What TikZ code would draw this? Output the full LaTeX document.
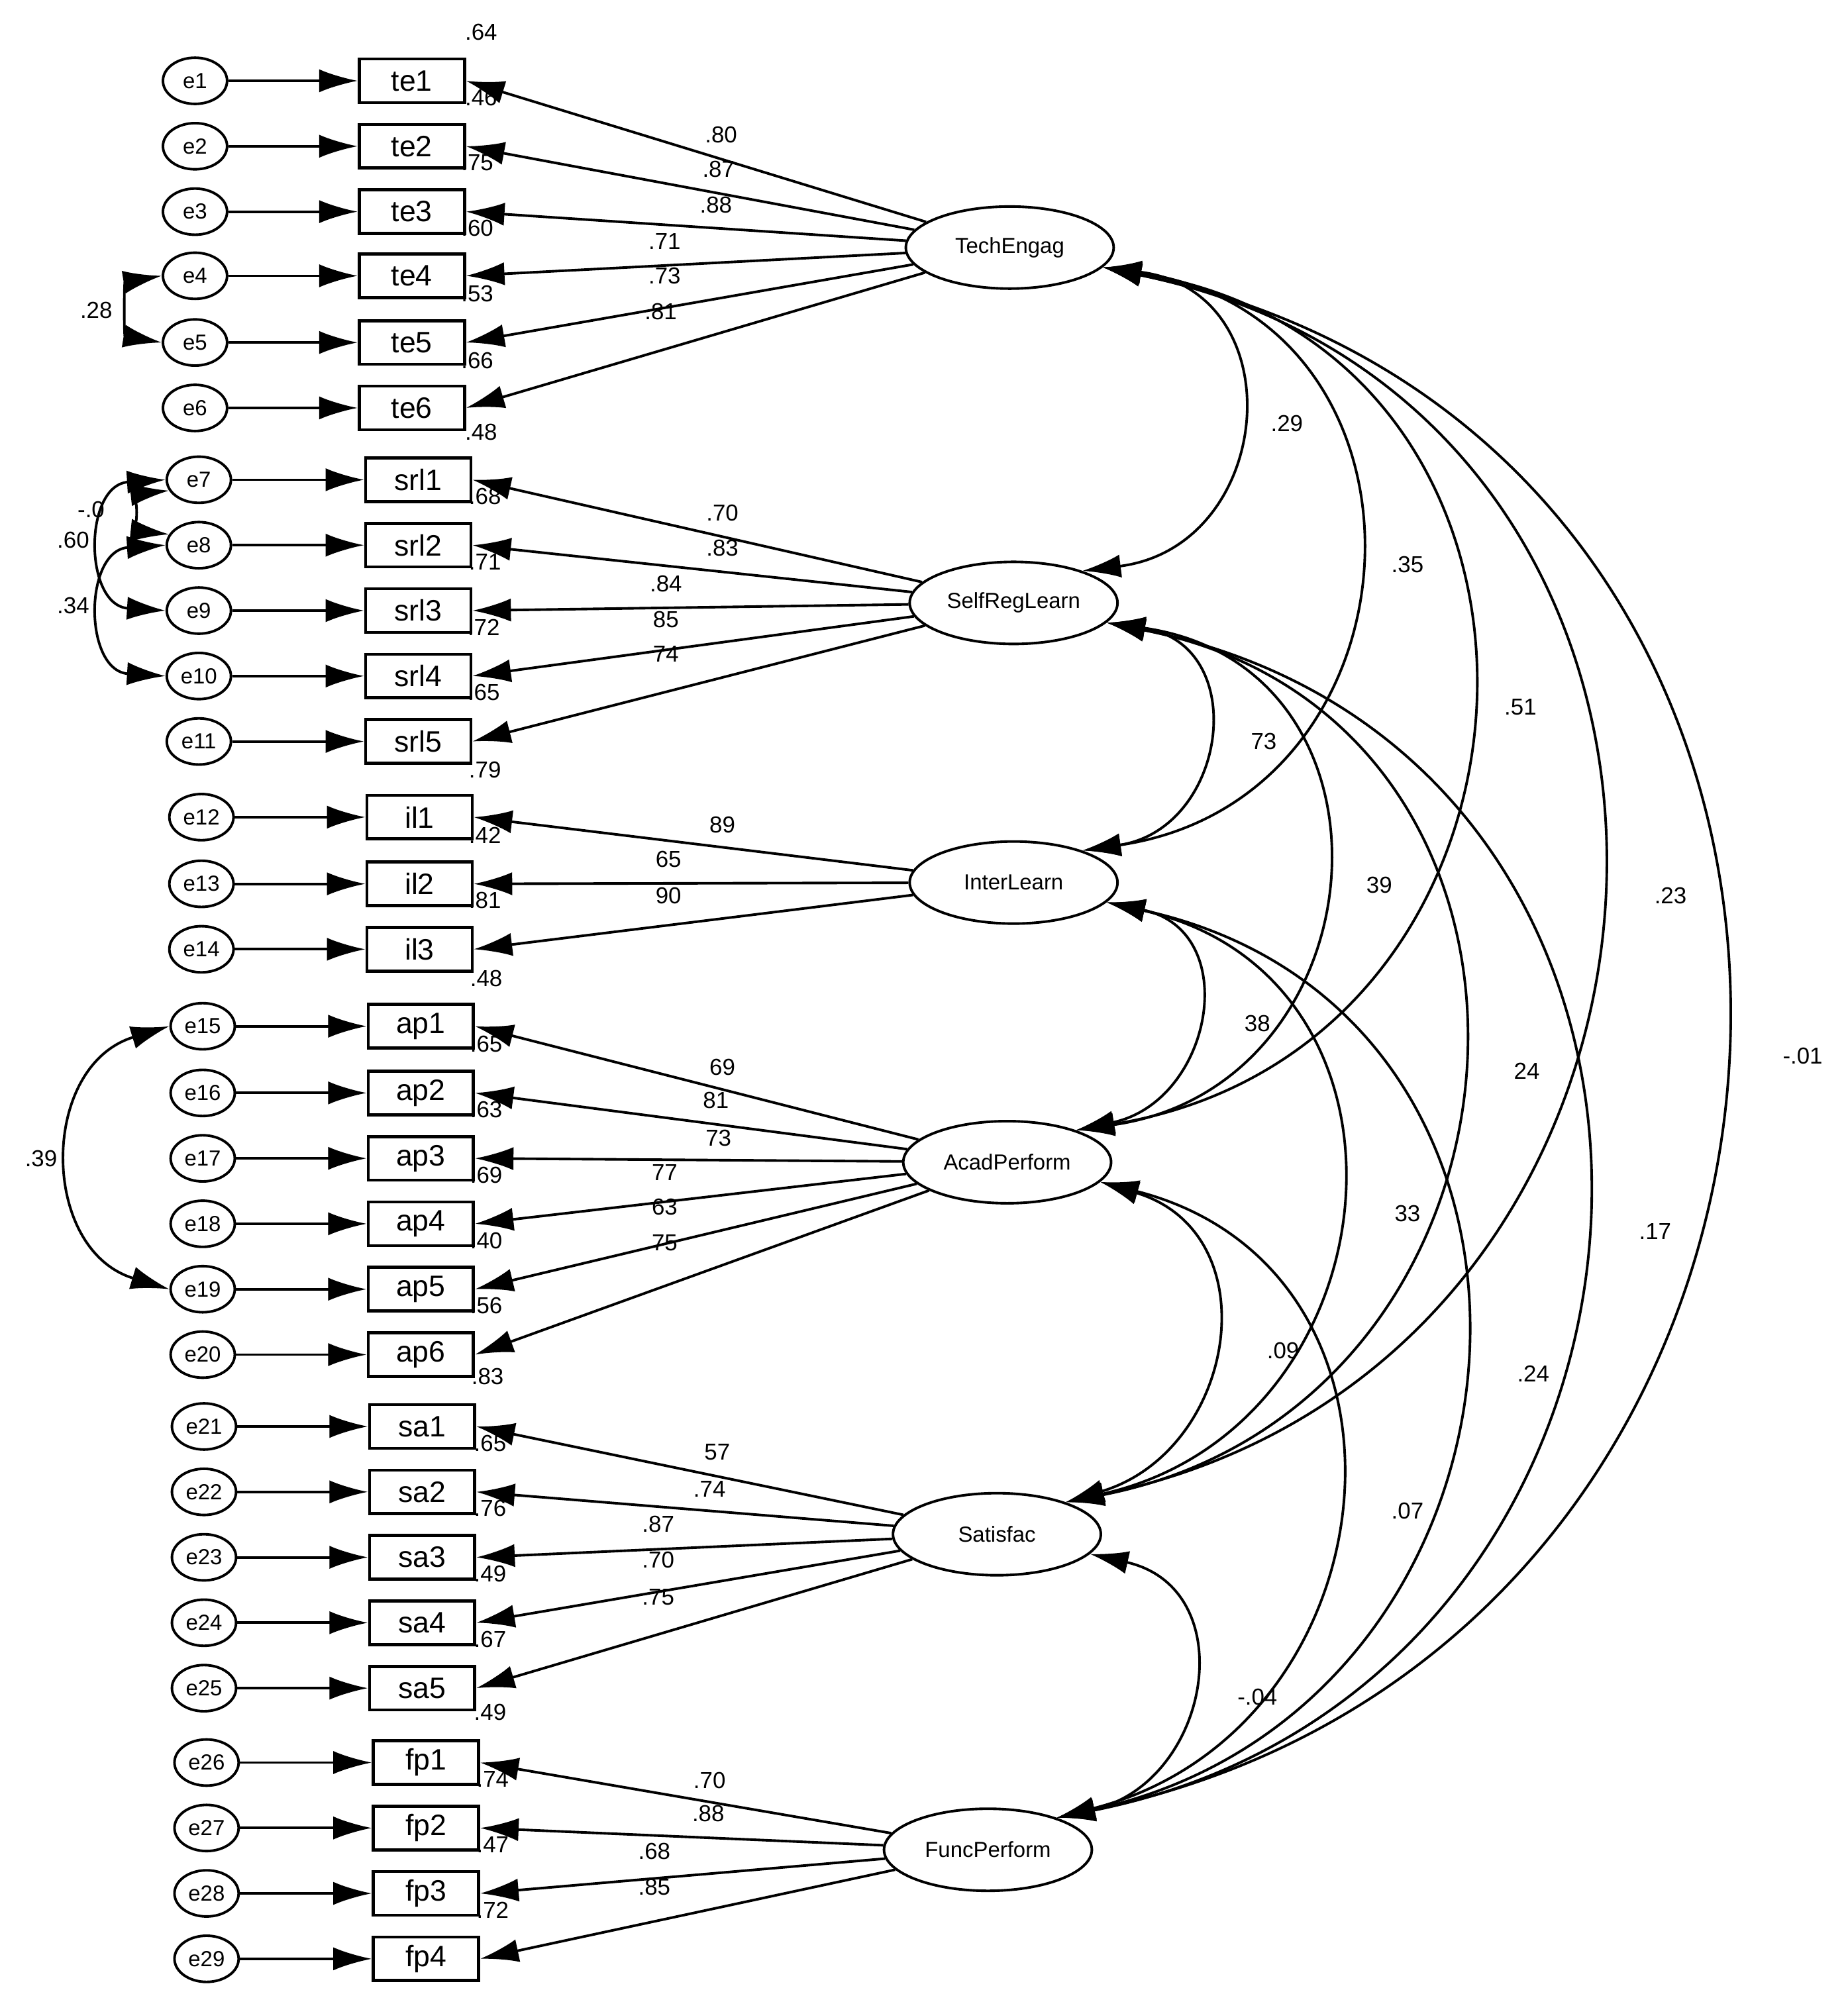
\documentclass[tikz,border=0pt]{standalone}
\usepackage{fontspec}
\setmainfont{Liberation Sans}
\usetikzlibrary{shapes.geometric,arrows.meta}
\newcommand\myarc[5]{%
 \pgfmathsetmacro\mycc{#3/2}%
 \pgfmathsetmacro\myth{4*atan(#4/\mycc)}%
 \pgfmathsetmacro\myq{\mycc/#4}%
 \pgfmathsetmacro\myR{0.5*\mycc*\myq+0.5*#4}%
 \pgfmathsetmacro\mykk{4/3*tan(\myth/4)*\myR}%
 \pgfmathsetmacro\mydx{#5*\mykk*sin(\myth/2)}%
 \pgfmathsetmacro\mydy{\mykk*cos(\myth/2)}%
 \draw[cov] (#1) .. controls +(\mydx,\mydy) and +(\mydx,-\mydy) .. (#2);}
\begin{document}
\begin{tikzpicture}[x=0.5pt,y=-0.5pt,
 err/.style={ellipse,draw,line width=1pt,minimum width=25pt,minimum height=18pt,inner sep=0pt,font=\fontsize{8.5}{8.5}\selectfont},
 obs/.style={rectangle,draw,line width=1.2pt,minimum width=41pt,minimum height=17pt,inner sep=0pt,font=\fontsize{11.5}{11.5}\selectfont},
 lat/.style={ellipse,draw,line width=1pt,minimum width=81pt,minimum height=32pt,inner sep=0pt,font=\fontsize{8.5}{8.5}\selectfont},
 arr/.style={line width=1pt,-{Latex[length=15pt,width=9pt]}},
 cov/.style={line width=1pt,{Latex[length=15pt,width=9pt]}-{Latex[length=15pt,width=9pt]}},
 lbl/.style={font=\fontsize{9}{9}\selectfont,inner sep=0pt}]
\useasboundingbox (0,0) rectangle (1440,1556);
% latent variables
\node[lat] (TE) at (787,193) {TechEngag};
\node[lat] (SR) at (790,470) {SelfRegLearn};
\node[lat] (IL) at (790,688) {InterLearn};
\node[lat] (AP) at (785,906) {AcadPerform};
\node[lat] (SA) at (777,1196) {Satisfac};
\node[lat] (FP) at (770,1442) {FuncPerform};
% indicators and errors
\foreach \i/\nm/\ex/\bx/\y/\lt in {
 1/te1/152/321/63/TE,2/te2/152/321/114/TE,3/te3/152/321/165/TE,4/te4/152/321/215/TE,5/te5/152/321/267/TE,6/te6/152/321/318/TE,
 7/srl1/155/326/374/SR,8/srl2/155/326/425/SR,9/srl3/155/326/476/SR,10/srl4/155/326/527/SR,11/srl5/155/326/578/SR,
 12/il1/157/327/637/IL,13/il2/157/327/689/IL,14/il3/157/327/740/IL,
 15/ap1/158/328/800/AP,16/ap2/158/328/852/AP,17/ap3/158/328/903/AP,18/ap4/158/328/954/AP,19/ap5/158/328/1005/AP,20/ap6/158/328/1056/AP,
 21/sa1/159/329/1112/SA,22/sa2/159/329/1163/SA,23/sa3/159/329/1214/SA,24/sa4/159/329/1265/SA,25/sa5/159/329/1316/SA,
 26/fp1/161/332/1374/FP,27/fp2/161/332/1425/FP,28/fp3/161/332/1476/FP,29/fp4/161/332/1527/FP}{
  \node[err] (e\i) at (\ex,\y) {e\i};
  \node[obs] (\nm) at (\bx,\y) {\nm};
  \draw[arr] (e\i) -- (\nm);
  \draw[arr] (\lt) -- (\nm.east);
}
% R squared
\foreach \k/\x/\y/\t in {1/375/25/.64,2/375/76/.46,3/372/127/.75,4/372/178/.60,5/372/229/.53,6/372/281/.66,
 7/375/337/.48,8/378/387/.68,9/378/438/.71,10/377/489/.72,11/377/540/.65,
 12/378/600/.79,13/378/651/.42,14/378/702/.81,
 15/379/763/.48,16/379/814/.65,17/379/865/.63,18/379/916/.69,19/379/967/.40,20/379/1018/.56,
 21/380/1073/.83,22/382/1125/.65,23/382/1176/.76,24/382/1227/.49,25/382/1278/.67,
 26/382/1335/.49,27/384/1387/.74,28/384/1438/.47,29/384/1489/.72}{
  \node[lbl] (r\k) at (\x,\y) {\t};
}
% loadings
\foreach \k/\x/\y/\t in {1/562/105/.80,2/560/132/.87,3/558/160/.88,4/518/188/.71,5/518/215/.73,6/515/243/.81,
 7/563/400/.70,8/563/427/.83,9/519/455/.84,10/519/483/85,11/519/510/74,
 12/563/643/89,13/521/670/65,14/521/698/90,
 15/563/832/69,16/558/858/81,17/560/887/73,18/518/914/77,19/518/941/63,20/518/969/75,
 21/559/1132/57,22/553/1161/.74,23/513/1188/.87,24/513/1216/.70,25/513/1245/.75,
 26/553/1388/.70,27/552/1414/.88,28/510/1443/.68,29/510/1471/.85}{
  \node[lbl] (l\k) at (\x,\y) {\t};
}
% latent covariances
\myarc{TE.-12}{SR.25}{256}{113}{1}
\myarc{TE.-12}{IL.25}{474}{205}{1}
\myarc{TE.-12}{AP.25}{692}{295}{1}
\myarc{TE.-12}{SA.25}{982}{400}{1}
\myarc{TE.-12}{FP.25}{1228}{500}{1}
\myarc{SR.-12}{IL.25}{197}{85}{1}
\myarc{SR.-12}{AP.25}{415}{180}{1}
\myarc{SR.-12}{SA.25}{705}{290}{1}
\myarc{SR.-12}{FP.25}{951}{390}{1}
\myarc{IL.-12}{AP.25}{197}{80}{1}
\myarc{IL.-12}{SA.25}{487}{195}{1}
\myarc{IL.-12}{FP.25}{733}{295}{1}
\myarc{AP.-12}{SA.25}{269}{100}{1}
\myarc{AP.-12}{FP.25}{515}{200}{1}
\myarc{SA.-12}{FP.25}{225}{90}{1}
\foreach \k/\x/\y/\t in {1/1003/330/.29,2/1097/440/.35,3/1185/551/.51,4/1302/698/.23,5/1405/823/-.01,
 6/985/578/73,7/1075/690/39,8/1190/835/24,9/1290/960/.17,
 10/980/798/38,11/1097/946/33,12/1195/1071/.24,
 13/1000/1053/.09,14/1097/1178/.07,15/980/1323/-.04}{
  \node[lbl] (c\k) at (\x,\y) {\t};
}
% error covariances
\myarc{e4.west}{e5.west}{52}{22}{-1}
\myarc{e7.200}{e8.160}{40}{18}{-1}
\myarc{e7.west}{e9.west}{102}{48}{-1}
\myarc{e8.west}{e10.west}{102}{48}{-1}
\myarc{e15.west}{e19.west}{205}{76}{-1}
\node[lbl] (ec1) at (75,242) {.28};
\node[lbl] (ec2) at (71,397) {-.0};
\node[lbl] (ec3) at (57,421) {.60};
\node[lbl] (ec4) at (57,472) {.34};
\node[lbl] (ec5) at (32,903) {.39};
\end{tikzpicture}
\end{document}
